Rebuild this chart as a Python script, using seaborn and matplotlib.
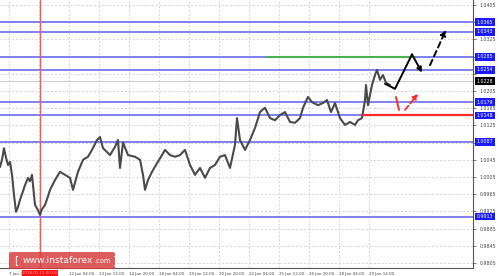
import matplotlib
matplotlib.use("Agg")
import matplotlib.pyplot as plt
import seaborn as sns
import pandas as pd
from matplotlib.patches import FancyBboxPatch

sns.set_theme(style="white")
plt.rcParams['font.family'] = ['DejaVu Sans']

# ---- data ----
bar_x = [0, 2, 4, 6, 8, 10, 12, 14, 16, 18, 20, 22, 25, 28, 30, 32, 35, 38, 40, 42, 45, 48, 50,
         55, 60, 65, 70, 73, 78, 83, 88, 92, 97, 100, 103, 107, 110, 115, 118, 120, 123, 128,
         135, 140, 143, 145, 148, 152, 156, 162, 165, 170, 175, 180, 185, 190, 195, 200, 205,
         210, 215, 220, 225, 230, 235, 237, 240, 245, 250, 255, 260, 265, 270, 275, 280, 285,
         290, 295, 300, 303, 308, 312, 318, 323, 327, 331, 335, 340, 345, 350, 355, 358, 362,
         365, 366, 368, 372, 375, 377, 380, 383, 386, 390]
price = [1.0028, 1.0045, 1.0072, 1.0050, 1.0033, 1.0040, 1.0010, 0.9963, 0.9924, 0.9935, 0.9952,
         0.9965, 0.9986, 1.0003, 0.9995, 1.0010, 0.9940, 0.9928, 0.9917, 0.9930, 0.9940, 0.9960,
         0.9975, 0.9998, 1.0017, 1.0010, 1.0003, 0.9975, 1.0017, 1.0045, 1.0052, 1.0068, 1.0091,
         1.0098, 1.0072, 1.0063, 1.0056, 1.0075, 1.0091, 1.0026, 1.0085, 1.0056, 1.0052, 1.0045,
         1.0010, 0.9975, 0.9998, 1.0017, 1.0033, 1.0056, 1.0068, 1.0056, 1.0052, 1.0056, 1.0068,
         1.0033, 1.0010, 1.0026, 1.0003, 1.0026, 1.0033, 1.0052, 1.0056, 1.0026, 1.0080, 1.0142,
         1.0091, 1.0068, 1.0091, 1.0119, 1.0156, 1.0166, 1.0142, 1.0137, 1.0149, 1.0156, 1.0133,
         1.0131, 1.0142, 1.0166, 1.0191, 1.0179, 1.0172, 1.0177, 1.0184, 1.0156, 1.0177, 1.0142,
         1.0126, 1.0133, 1.0126, 1.0137, 1.0142, 1.0184, 1.0219, 1.0172, 1.0219, 1.0242, 1.0254,
         1.0231, 1.0242, 1.0224, 1.0219]

levels_blue = [1.0365, 1.0343, 1.0285, 1.0254, 1.0179, 1.0148, 1.0087, 0.9913]
level_green = 1.0285
green_span = [267, 415]
level_red = 1.0148
red_span = [363, 473]
current_price = 1.0228
vline_x = 40
cursor_label = "2018.01.11 00:00"

ytick_vals = [0.9805 + 0.004 * k for k in range(16)]
xtick_pos = [9, 69, 99, 129, 159, 189, 219, 249, 279, 309, 339, 369]
xtick_labels = ["7 Jan 2018", "12 Jan 04:00", "13 Jan 12:00", "14 Jan 20:00",
                "18 Jan 04:00", "19 Jan 12:00", "20 Jan 20:00", "22 Jan 04:00", "25 Jan 12:00",
                "26 Jan 20:00", "28 Jan 04:00", "29 Jan 12:00"]

# forecast arrows
black_solid_x = [385, 395, 412, 422]
black_solid_y = [1.0222, 1.0210, 1.0290, 1.0248]
black_dash_x = [430, 446]
black_dash_y = [1.0265, 1.0347]
red_dash_x = [396, 399]
red_dash_y = [1.0191, 1.0161]
red_arrow_x = [405, 418]
red_arrow_y = [1.0161, 1.0198]

# ---- figure ----
fig = plt.figure(figsize=(5, 2.76), dpi=100)
ax = fig.add_axes([0, 8 / 276, 473 / 500, 268 / 276])
ax.set_facecolor("white")

ylo = 1.04166 - 268 / 4300
yhi = 1.04166
ax.set_ylim(ylo, yhi)
ax.set_xlim(0, 473)

# grid
for v in ytick_vals:
    ax.axhline(v, color="#d4d4d4", lw=0.7, ls=(0, (2, 2)), zorder=0)
for p in xtick_pos + [39]:
    ax.axvline(p, color="#d4d4d4", lw=0.7, ls=(0, (2, 2)), zorder=0)

ax.axhline(current_price, color="#cccccc", lw=0.8, zorder=1)

for lv in levels_blue:
    ax.axhline(lv, color="#6b6bf0", lw=1.2, zorder=2)

ax.axvline(vline_x, color="#ff5555", lw=1.0, zorder=3)

df = pd.DataFrame({"x": bar_x, "price": price})
sns.lineplot(data=df, x="x", y="price", ax=ax, color="#4a4a4a", lw=1.5, zorder=4)

ax.plot(green_span, [level_green] * 2, color="#4caf50", lw=1.5, zorder=5)
ax.plot(red_span, [level_red] * 2, color="#ff2a2a", lw=1.6, zorder=5)

# black arrows
ax.plot(black_solid_x[:-1], black_solid_y[:-1], color="black", lw=1.4, zorder=6)
ax.annotate("", xy=(black_solid_x[-1], black_solid_y[-1]),
            xytext=(black_solid_x[-2], black_solid_y[-2]),
            arrowprops=dict(arrowstyle="-|>", color="black", lw=1.4, mutation_scale=7,
                            shrinkA=0, shrinkB=0), zorder=6)
ax.annotate("", xy=(black_dash_x[1], black_dash_y[1]), xytext=(black_dash_x[0], black_dash_y[0]),
            arrowprops=dict(arrowstyle="-|>", color="black", lw=1.4, ls=(0, (3, 2)),
                            mutation_scale=8, shrinkA=0, shrinkB=0), zorder=6)
ax.plot(red_dash_x, red_dash_y, color="#ff2a2a", lw=1.4, zorder=6)
ax.annotate("", xy=(red_arrow_x[1], red_arrow_y[1]), xytext=(red_arrow_x[0], red_arrow_y[0]),
            arrowprops=dict(arrowstyle="-|>", color="#ff2a2a", lw=1.3, ls=(0, (3, 1.5)),
                            mutation_scale=7, shrinkA=0, shrinkB=0), zorder=6)

# axes styling
for s in ["top", "left"]:
    ax.spines[s].set_visible(False)
ax.spines["right"].set_color("#555555")
ax.spines["bottom"].set_color("#555555")
ax.spines["right"].set_linewidth(0.8)
ax.spines["bottom"].set_linewidth(0.8)

ax.yaxis.tick_right()
ax.set_yticks(ytick_vals)
boxed = levels_blue + [current_price]
ylabels = []
for v in ytick_vals:
    if min(abs(v - b) for b in boxed) < 0.001:
        ylabels.append("")
    else:
        ylabels.append(f"{v:.4f}")
ax.set_yticklabels(ylabels, fontsize=3.4, color="#444444")
ax.tick_params(axis="y", length=2, pad=3, colors="#444444", width=0.5)
ax.set_xticks(xtick_pos)
ax.set_xticklabels(xtick_labels, fontsize=2.9, color="#444444", ha="left")
ax.tick_params(axis="x", length=2, pad=0.8, colors="#444444", width=0.5)
ax.set_xlabel("")
ax.set_ylabel("")

# boxed level labels on the price axis
trans = ax.get_yaxis_transform()
for lv in levels_blue:
    ax.text(1.008, lv, f"{lv:.4f}", transform=trans, fontsize=3.4, color="white",
            va="center", ha="left",
            bbox=dict(boxstyle="square,pad=0.3", fc="#1a1aff", ec="none"), clip_on=False)
ax.text(1.008, current_price, f"{current_price:.4f}", transform=trans, fontsize=3.4, color="white",
        va="center", ha="left",
        bbox=dict(boxstyle="square,pad=0.3", fc="black", ec="none"), clip_on=False)

# crosshair time label (centered on the red vertical line)
ax.text(vline_x, -0.012, cursor_label, transform=ax.get_xaxis_transform(), fontsize=2.9,
        color="#ffaaaa", ha="center", va="top", zorder=8, clip_on=False,
        bbox=dict(boxstyle="square,pad=0.2", fc="#ff1010", ec="none"))

# watermark
box = FancyBboxPatch((9 / 500, 7 / 276), 106 / 500, 17 / 276, boxstyle="round,pad=0,rounding_size=0.006",
                     transform=fig.transFigure, fc=(0.85, 0.22, 0.22, 0.82), ec="none", zorder=10)
fig.patches.append(box)
fig.text(14 / 500, 15.5 / 276, "[", color="white", fontsize=7.5, va="center", ha="left", zorder=11)
t1 = fig.text(23 / 500, 15.5 / 276, "www.instaforex", color="white", fontsize=6.6, va="center",
              ha="left", zorder=11)
fig.canvas.draw()
bb = t1.get_window_extent()
t2 = fig.text(bb.x1 / 500 + 0.001, 14.8 / 276, ".com", color="white", fontsize=4.8, va="center",
              ha="left", zorder=11)
fig.canvas.draw()
bb2 = t2.get_window_extent()
fig.text(bb2.x1 / 500 + 0.006, 15.5 / 276, "]", color="white", fontsize=7.5, va="center",
         ha="left", zorder=11)

fig.savefig("out.png", dpi=100)
